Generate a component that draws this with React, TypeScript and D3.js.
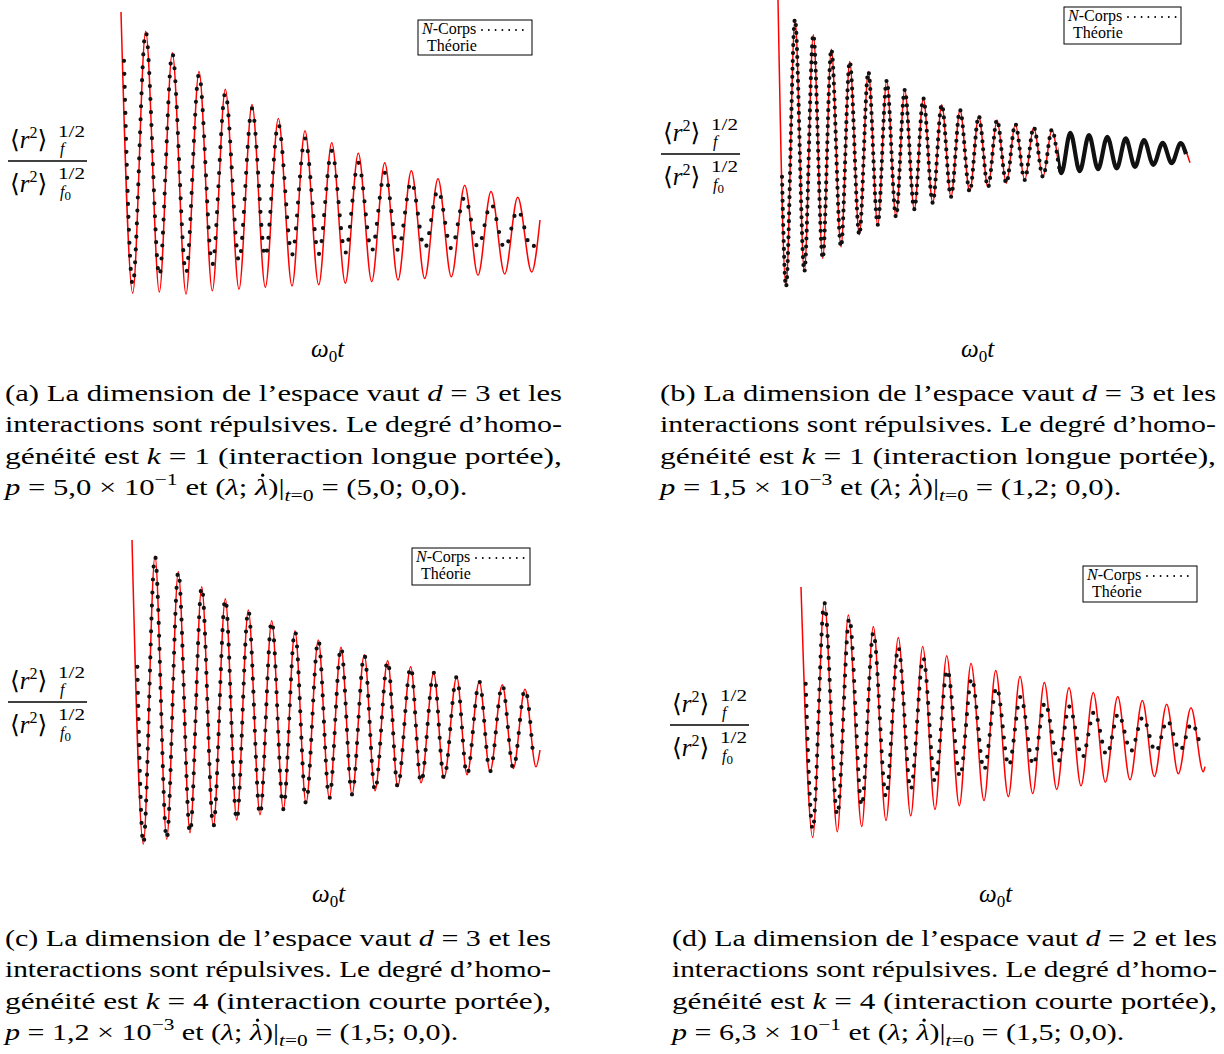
import React, { useLayoutEffect, useRef, useState } from "react";
import * as d3 from "d3";

// ---------- Panel (a) ----------
const timeTheoryA = [0, 2.93, 6.18, 9.58, 12.83, 16.25, 19.5, 22.83, 26.08, 29.5, 32.75, 36.08, 39.33, 42.75, 46, 49.43, 52.68, 56.08, 59.33, 62.68, 65.93, 69.25, 72.58, 75.93, 79.25, 82.58, 85.93, 89.25, 92.5, 95.93, 99.18, 102.68, 104.75];
const theoryA = [1.0, 0.297, 0.952, 0.3, 0.898, 0.295, 0.851, 0.303, 0.807, 0.307, 0.769, 0.312, 0.734, 0.315, 0.703, 0.318, 0.673, 0.322, 0.647, 0.326, 0.623, 0.33, 0.603, 0.334, 0.583, 0.338, 0.567, 0.342, 0.551, 0.345, 0.537, 0.35, 0.48];
const timeNbodyA = [0.75, 2.93, 6.18, 9.58, 12.83, 16.25, 19.5, 22.83, 26.08, 29.5, 32.75, 36.08, 39.33, 42.75, 46, 49.43, 52.68, 56.08, 59.33, 62.68, 65.93, 69.25, 72.58, 75.93, 79.25, 82.58, 85.93, 89.25, 92.5, 95.93, 99.18, 102.68, 103.75];
const nbodyA = [0.878, 0.318, 0.951, 0.34, 0.897, 0.347, 0.845, 0.368, 0.798, 0.378, 0.759, 0.388, 0.72, 0.393, 0.684, 0.395, 0.653, 0.398, 0.623, 0.403, 0.598, 0.405, 0.576, 0.409, 0.555, 0.409, 0.537, 0.412, 0.52, 0.409, 0.505, 0.409, 0.428];

// ---------- Panel (b) ----------
const timeTheoryB = [0, 2.0, 4.25, 6.58, 8.83, 11.18, 13.33, 15.75, 17.93, 20.33, 22.58, 24.93, 27.18, 29.5, 31.68, 34.08, 36.33, 38.68, 40.93, 43.25, 45.5, 47.93, 50.18, 52.5, 54.75, 57.08, 59.33, 61.68, 63.93, 66.25, 68.5, 70.83, 73.08, 75.43, 77.75, 80, 82.33, 84.68, 86.93, 89.25, 91.5, 93.83, 96.18, 98.43, 100.68, 103];
const theoryB = [1.0, 0.283, 0.952, 0.321, 0.913, 0.354, 0.877, 0.383, 0.846, 0.413, 0.821, 0.438, 0.798, 0.458, 0.775, 0.477, 0.754, 0.493, 0.738, 0.508, 0.725, 0.521, 0.71, 0.532, 0.7, 0.542, 0.69, 0.55, 0.682, 0.558, 0.676, 0.567, 0.668, 0.572, 0.662, 0.577, 0.658, 0.579, 0.654, 0.583, 0.65, 0.588, 0.643, 0.592, 0.642, 0.593];
const timeNbodyB = [1.0, 2.0, 4.25, 6.58, 8.83, 11.18, 13.33, 15.75, 17.93, 20.33, 22.58, 24.93, 27.18, 29.5, 31.68, 34.08, 36.33, 38.68, 40.93, 43.25, 45.5, 47.93, 50.18, 52.5, 54.75, 57.08, 59.33, 61.68, 63.93, 66.25, 68.5, 70.83, 73.08, 75.43, 77.75, 80, 82.33, 84.68, 86.93, 89.25, 91.5, 93.83, 96.18, 98.43, 100.68, 102];
const nbodyB = [0.558, 0.283, 0.952, 0.321, 0.913, 0.354, 0.877, 0.383, 0.846, 0.413, 0.821, 0.438, 0.798, 0.458, 0.775, 0.477, 0.754, 0.493, 0.738, 0.508, 0.725, 0.521, 0.71, 0.532, 0.7, 0.542, 0.69, 0.55, 0.682, 0.558, 0.676, 0.567, 0.668, 0.572, 0.662, 0.577, 0.658, 0.579, 0.654, 0.583, 0.65, 0.588, 0.643, 0.592, 0.642, 0.615];

// ---------- Panel (c) ----------
const timeTheoryC = [0, 2.83, 5.75, 8.68, 11.58, 14.5, 17.43, 20.33, 23.33, 26.18, 29.08, 32, 34.93, 37.83, 40.75, 43.5, 46.58, 49.33, 52.25, 55, 58.08, 60.75, 63.93, 66.43, 69.68, 72.25, 75.43, 78, 81.18, 83.75, 86.83, 89.5, 92.58, 95.33, 98.25, 101, 102];
const theoryC = [1.0, 0.24, 0.96, 0.252, 0.921, 0.268, 0.883, 0.283, 0.853, 0.3, 0.825, 0.313, 0.798, 0.327, 0.773, 0.342, 0.75, 0.354, 0.732, 0.364, 0.713, 0.373, 0.698, 0.383, 0.683, 0.393, 0.668, 0.404, 0.658, 0.413, 0.646, 0.421, 0.638, 0.429, 0.627, 0.433, 0.475];
const timeNbodyC = [1.33, 2.83, 5.75, 8.68, 11.58, 14.5, 17.43, 20.33, 23.33, 26.18, 29.08, 32, 34.93, 37.83, 40.75, 43.5, 46.58, 49.33, 52.25, 55, 58.08, 60.75, 63.93, 66.43, 69.68, 72.25, 75.43, 78, 81.18, 83.75, 86.83, 89.5, 92.58, 95.33, 98.25, 100.33];
const nbodyC = [0.683, 0.24, 0.96, 0.252, 0.921, 0.268, 0.883, 0.283, 0.853, 0.3, 0.825, 0.313, 0.798, 0.327, 0.773, 0.342, 0.75, 0.354, 0.732, 0.364, 0.713, 0.373, 0.698, 0.383, 0.683, 0.393, 0.668, 0.404, 0.658, 0.413, 0.646, 0.421, 0.638, 0.429, 0.627, 0.454];

// ---------- Panel (d) ----------
const timeTheoryD = [0, 2.93, 5.83, 9.08, 11.83, 15.18, 18.08, 21.25, 24.33, 27.43, 30.43, 33.5, 36.43, 39.58, 42.5, 45.75, 48.68, 51.83, 54.75, 57.93, 60.83, 63.93, 67, 70, 73.08, 76.08, 79.18, 82.25, 85.33, 88.33, 91.43, 94.33, 97.5, 100.58, 101];
const theoryD = [1.0, 0.374, 0.963, 0.388, 0.93, 0.401, 0.901, 0.416, 0.874, 0.428, 0.851, 0.444, 0.828, 0.453, 0.809, 0.466, 0.791, 0.476, 0.776, 0.484, 0.761, 0.494, 0.748, 0.503, 0.736, 0.512, 0.726, 0.518, 0.716, 0.526, 0.707, 0.533, 0.698, 0.538, 0.551];
const timeNbodyD = [1.18, 2.93, 5.83, 9.08, 12.08, 15.18, 18.08, 21.25, 24.33, 27.43, 30.58, 33.5, 36.58, 39.75, 42.68, 45.75, 48.93, 51.93, 54.93, 58.08, 61, 64.33, 67.08, 70.33, 73.33, 76.43, 79.33, 82.5, 85.43, 88.68, 91.58, 94.75, 97.68, 99.58];
const nbodyD = [0.758, 0.394, 0.961, 0.43, 0.922, 0.453, 0.886, 0.476, 0.849, 0.494, 0.823, 0.513, 0.793, 0.526, 0.772, 0.543, 0.749, 0.553, 0.726, 0.555, 0.711, 0.563, 0.701, 0.574, 0.688, 0.58, 0.683, 0.59, 0.674, 0.588, 0.666, 0.591, 0.659, 0.613];

// ---------- Caption texts ----------
const captionLetters = ["a", "b", "c", "d"];
const dimensions = ["3", "3", "3", "2"];
const homogeneity = ["1", "1", "4", "4"];
const rangeWords = ["longue", "longue", "courte", "courte"];
const pMantissa = ["5,0", "1,5", "1,2", "6,3"];
const pExponent = ["−1", "−3", "−3", "−1"];
const lambdaInit = ["5,0", "1,2", "1,5", "1,5"];

const SERIF = "'Liberation Serif', 'DejaVu Serif', serif";

// layout only (positions in pixels, no data)
const panels = [
  { tT: timeTheoryA, vT: theoryA, tN: timeNbodyA, vN: nbodyA, x0: 121, y0: 12, leg: [418, 20, 114, 35], fracL: 8, fracB: 161, xlab: [311, 357], cap: [5, 562, 401], gap: 13, solidFrom: null },
  { tT: timeTheoryB, vT: theoryB, tN: timeNbodyB, vN: nbodyB, x0: 778, y0: 0, leg: [1064, 7, 117, 37], fracL: 661, fracB: 154, xlab: [961, 357], cap: [660, 1216, 401], gap: 8, solidFrom: 1058 },
  { tT: timeTheoryC, vT: theoryC, tN: timeNbodyC, vN: nbodyC, x0: 132, y0: 540, leg: [412, 548, 118, 37], fracL: 8, fracB: 702, xlab: [312, 902], cap: [5, 551, 946], gap: 13, solidFrom: null },
  { tT: timeTheoryD, vT: theoryD, tN: timeNbodyD, vN: nbodyD, x0: 801, y0: 587, leg: [1083, 566, 114, 36], fracL: 670, fracB: 725, xlab: [979, 902], cap: [672, 1217, 946], gap: 11, solidFrom: null },
];

function Fraction({ L, B }: { L: number; B: number }) {
  const big = 25;
  const small = 16;
  return (
    <g style={{ fontFamily: SERIF }}>
      <text x={L + 2} y={B - 13} fontSize={big}>
        ⟨<tspan fontStyle="italic">r</tspan>
        <tspan fontSize={small} dy={-10}>2</tspan>
        <tspan dy={10}>⟩</tspan>
      </text>
      <text x={L + 50} y={B - 24} fontSize={small} textLength={27} lengthAdjust="spacingAndGlyphs">1/2</text>
      <text x={L + 52} y={B - 7} fontSize={small} fontStyle="italic">f</text>
      <line x1={L} x2={L + 79} y1={B} y2={B} stroke="#000" strokeWidth={1.7} />
      <text x={L + 2} y={B + 31} fontSize={big}>
        ⟨<tspan fontStyle="italic">r</tspan>
        <tspan fontSize={small} dy={-10}>2</tspan>
        <tspan dy={10}>⟩</tspan>
      </text>
      <text x={L + 50} y={B + 18} fontSize={small} textLength={27} lengthAdjust="spacingAndGlyphs">1/2</text>
      <text x={L + 52} y={B + 36} fontSize={small}>
        <tspan fontStyle="italic">f</tspan>
        <tspan fontSize={13} dy={3}>0</tspan>
      </text>
    </g>
  );
}

function Caption({ i, x0, x1, y }: { i: number; x0: number; x1: number; y: number }) {
  const lh = 31.4;
  const w = x1 - x0;
  const lastY = y + 3 * lh;
  const lamRef = useRef<SVGTSpanElement | null>(null);
  const [dot, setDot] = useState<[number, number] | null>(null);
  useLayoutEffect(() => {
    const el: any = lamRef.current;
    if (el && el.getBBox) {
      try {
        const bb = el.getBBox();
        setDot([bb.x + bb.width * 0.62, lastY - 20]);
      } catch (e) {
        /* ignore */
      }
    }
  }, [lastY]);
  return (
    <g style={{ fontFamily: SERIF, fontSize: 24 }}>
      <text x={x0} y={y} textLength={w} lengthAdjust="spacingAndGlyphs">
        {`(${captionLetters[i]}) La dimension de l’espace vaut `}
        <tspan fontStyle="italic">d</tspan>
        {` = ${dimensions[i]} et les`}
      </text>
      <text x={x0} y={y + lh} textLength={w} lengthAdjust="spacingAndGlyphs">
        interactions sont répulsives. Le degré d’homo-
      </text>
      <text x={x0} y={y + 2 * lh} textLength={w} lengthAdjust="spacingAndGlyphs">
        {"généité est "}
        <tspan fontStyle="italic">k</tspan>
        {` = ${homogeneity[i]} (interaction ${rangeWords[i]} portée),`}
      </text>
      <text x={x0} y={lastY} textLength={w * 0.83} lengthAdjust="spacingAndGlyphs">
        <tspan fontStyle="italic">p</tspan>
        {` = ${pMantissa[i]} × 10`}
        <tspan fontSize={17} dy={-10}>{pExponent[i]}</tspan>
        <tspan dy={10}>{" et ("}</tspan>
        <tspan fontStyle="italic">λ</tspan>
        {"; "}
        <tspan fontStyle="italic" ref={lamRef}>λ</tspan>
        {")|"}
        <tspan fontSize={17} dy={6} fontStyle="italic">t</tspan>
        <tspan fontSize={17}>=0</tspan>
        <tspan dy={-6}>{` = (${lambdaInit[i]}; 0,0).`}</tspan>
      </text>
      {dot && <circle cx={dot[0]} cy={dot[1]} r={1.6} fill="#000" />}
    </g>
  );
}

function Panel({ p, i }: { p: any; i: number }) {
  const xs = d3.scaleLinear().domain([0, 100]).range([p.x0, p.x0 + 400]);
  const ys = d3.scaleLinear().domain([0, 1]).range([p.y0 + 400, p.y0]);
  const line = d3
    .line<[number, number]>()
    .x((d) => xs(d[0]))
    .y((d) => ys(d[1]))
    .curve(d3.curveMonotoneX);
  const theory = d3.zip(p.tT, p.vT) as [number, number][];
  const nbody = d3.zip(p.tN, p.vN) as [number, number][];
  const nbodyPath = line(nbody) || "";
  const [lx, ly, lw, lh] = p.leg;
  const clipId = `dense-${i}`;
  return (
    <g>
      {p.solidFrom != null && (
        <defs>
          <clipPath id={clipId}>
            <rect x={p.solidFrom} y={p.y0 - 10} width={600} height={420} />
          </clipPath>
          <clipPath id={clipId + "-l"}>
            <rect x={p.x0 - 20} y={p.y0 - 10} width={p.solidFrom - p.x0 + 20} height={420} />
          </clipPath>
        </defs>
      )}
      <path d={line(theory) || ""} fill="none" stroke="#ff0000" strokeWidth={1.5} />
      <path
        d={nbodyPath}
        fill="none"
        stroke="#111"
        strokeWidth={4.2}
        strokeLinecap="round"
        strokeDasharray={`0 ${p.gap}`}
        clipPath={p.solidFrom != null ? `url(#${clipId}-l)` : undefined}
      />
      {p.solidFrom != null && (
        <path d={nbodyPath} fill="none" stroke="#111" strokeWidth={4.2} clipPath={`url(#${clipId})`} />
      )}
      <rect x={lx} y={ly} width={lw} height={lh} fill="#fff" stroke="#000" strokeWidth={1} />
      <text x={lx + 4} y={ly + 14} fontSize={16} style={{ fontFamily: SERIF }}>
        <tspan fontStyle="italic">N</tspan>-Corps
      </text>
      <line x1={lx + 64} x2={lx + lw - 4} y1={ly + 10} y2={ly + 10} stroke="#000" strokeWidth={1.9} strokeLinecap="round" strokeDasharray="0 6.8" />
      <text x={lx + 9} y={ly + 31} fontSize={16} style={{ fontFamily: SERIF }}>Théorie</text>
      <Fraction L={p.fracL} B={p.fracB} />
      <text x={p.xlab[0]} y={p.xlab[1]} fontSize={25} style={{ fontFamily: SERIF }}>
        <tspan fontStyle="italic">ω</tspan>
        <tspan fontSize={17} dy={5}>0</tspan>
        <tspan dy={-5} fontStyle="italic">t</tspan>
      </text>
      <Caption i={i} x0={p.cap[0]} x1={p.cap[1]} y={p.cap[2]} />
    </g>
  );
}

export default function App() {
  return (
    <svg
      width={1224}
      height={1054}
      viewBox="0 0 1224 1054"
      style={{ position: "absolute", left: 0, top: 0, background: "#fff" }}
    >
      <rect x={0} y={0} width={1224} height={1054} fill="#fff" />
      {panels.map((p, i) => (
        <Panel key={i} p={p} i={i} />
      ))}
    </svg>
  );
}
